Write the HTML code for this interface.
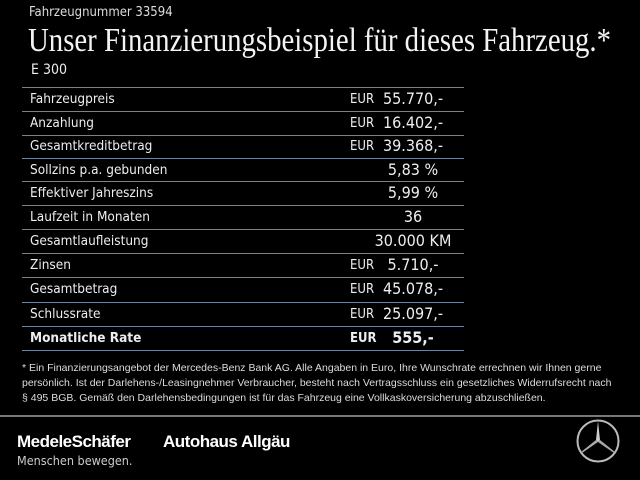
<!DOCTYPE html>
<html><head><meta charset="utf-8"><style>
body{margin:0;width:640px;height:480px;background:#000;color:#fff;font-family:"DejaVu Sans Condensed","Liberation Sans",sans-serif;position:relative;overflow:hidden}
.a{position:absolute;white-space:nowrap}
.line{position:absolute;left:22px;width:442px;height:1px;background:#6f8496}
.lab{position:absolute;left:30px;font-size:13.5px;color:#eee}
.eur{position:absolute;left:350px;font-size:13px;color:#eee}
.val{position:absolute;left:345px;width:136px;text-align:center;font-size:16px;color:#eee}
</style></head><body>
<div class="a" style="left:29px;top:5px;font-size:13px;color:#ddd">Fahrzeugnummer 33594</div>
<div class="a" style="left:28px;top:22px;font-family:'Liberation Serif',serif;font-size:34px;transform:scaleX(0.847);transform-origin:left top;color:#f4f4f4">Unser Finanzierungsbeispiel für dieses Fahrzeug.*</div>
<div class="a" style="left:31px;top:62px;font-size:14px;color:#eee">E 300</div>

<div class="line" style="top:87px"></div>
<div class="line" style="top:111px"></div>
<div class="line" style="top:135px"></div>
<div class="line" style="top:158px"></div>
<div class="line" style="top:181px"></div>
<div class="line" style="top:205px"></div>
<div class="line" style="top:229px"></div>
<div class="line" style="top:253px"></div>
<div class="line" style="top:277px"></div>
<div class="line" style="top:302px"></div>
<div class="line" style="top:326px"></div>
<div class="line" style="top:350px"></div>

<div class="lab" style="top:91px">Fahrzeugpreis</div><div class="eur" style="top:92px">EUR</div><div class="val" style="top:89px">55.770,-</div>
<div class="lab" style="top:115px">Anzahlung</div><div class="eur" style="top:116px">EUR</div><div class="val" style="top:113px">16.402,-</div>
<div class="lab" style="top:138px">Gesamtkreditbetrag</div><div class="eur" style="top:139px">EUR</div><div class="val" style="top:136px">39.368,-</div>
<div class="lab" style="top:162px">Sollzins p.a. gebunden</div><div class="val" style="top:160px">5,83 %</div>
<div class="lab" style="top:185px">Effektiver Jahreszins</div><div class="val" style="top:183px">5,99 %</div>
<div class="lab" style="top:209px">Laufzeit in Monaten</div><div class="val" style="top:207px">36</div>
<div class="lab" style="top:233px">Gesamtlaufleistung</div><div class="val" style="top:231px">30.000 KM</div>
<div class="lab" style="top:257px">Zinsen</div><div class="eur" style="top:258px">EUR</div><div class="val" style="top:255px">5.710,-</div>
<div class="lab" style="top:281px">Gesamtbetrag</div><div class="eur" style="top:282px">EUR</div><div class="val" style="top:279px">45.078,-</div>
<div class="lab" style="top:306px">Schlussrate</div><div class="eur" style="top:307px">EUR</div><div class="val" style="top:304px">25.097,-</div>
<div class="lab" style="top:330px;font-weight:bold">Monatliche Rate</div><div class="eur" style="top:331px;font-weight:bold">EUR</div><div class="val" style="top:328px;font-weight:bold">555,-</div>

<div class="a" style="left:22px;top:361px;font-family:'Liberation Sans',sans-serif;font-size:10.5px;line-height:15px;color:#ddd">* Ein Finanzierungsangebot der Mercedes-Benz Bank AG. Alle Angaben in Euro, Ihre Wunschrate errechnen wir Ihnen gerne<br>persönlich. Ist der Darlehens-/Leasingnehmer Verbraucher, besteht nach Vertragsschluss ein gesetzliches Widerrufsrecht nach<br>§ 495 BGB. Gemäß den Darlehensbedingungen ist für das Fahrzeug eine Vollkaskoversicherung abzuschließen.</div>

<div style="position:absolute;left:0;top:415px;width:640px;height:2px;background:#777"></div>
<div class="a" style="left:17px;top:432px;font-family:'Liberation Sans',sans-serif;font-weight:bold;font-size:17px;letter-spacing:-0.5px">MedeleSchäfer</div>
<div class="a" style="left:163px;top:432px;font-family:'Liberation Sans',sans-serif;font-weight:bold;font-size:17px;letter-spacing:-0.5px">Autohaus Allgäu</div>
<div class="a" style="left:17px;top:453px;font-size:12.5px;color:#ccc">Menschen bewegen.</div>
<svg style="position:absolute;left:575px;top:418px" width="46" height="46" viewBox="0 0 46 46">
<circle cx="23" cy="23" r="20.5" fill="none" stroke="#bbb" stroke-width="2"/>
<polygon points="23,3 25,22 23,24 21,22" fill="#ccc"/>
<polygon points="23,24 25,22 40,34 39,35" fill="#aaa"/>
<polygon points="23,24 21,22 6,34 7,35" fill="#aaa"/>
</svg>
</body></html>
